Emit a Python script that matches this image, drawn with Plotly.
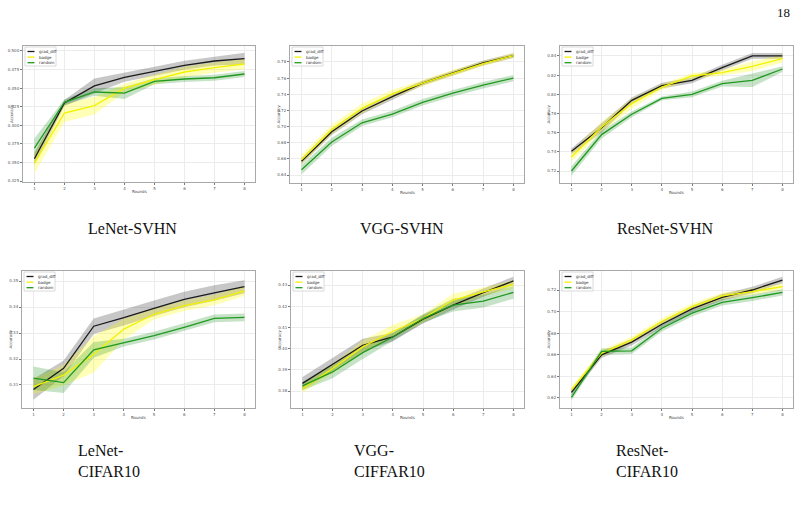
import plotly.graph_objects as go

rounds = [1, 2, 3, 4, 5, 6, 7, 8]
methods = ["grad_diff", "badge", "random"]

# LeNet-SVHN
lenet_svhn_grad = [0.355, 0.430, 0.453, 0.4645, 0.4727, 0.4807, 0.4865, 0.4897]
lenet_svhn_grad_std = [0.008, 0.004, 0.010, 0.006, 0.006, 0.006, 0.006, 0.008]
lenet_svhn_badge = [0.349, 0.4165, 0.4264, 0.450, 0.4614, 0.4717, 0.4776, 0.4825]
lenet_svhn_badge_std = [0.014, 0.012, 0.012, 0.006, 0.007, 0.007, 0.007, 0.007]
lenet_svhn_random = [0.3694, 0.431, 0.4448, 0.4434, 0.4592, 0.4623, 0.464, 0.469]
lenet_svhn_random_std = [0.013, 0.004, 0.005, 0.008, 0.004, 0.004, 0.004, 0.004]

# VGG-SVHN
vgg_svhn_grad = [0.657, 0.6935, 0.7193, 0.7372, 0.7538, 0.7663, 0.7788, 0.788]
vgg_svhn_grad_std = [0.004, 0.004, 0.004, 0.004, 0.003, 0.003, 0.003, 0.003]
vgg_svhn_badge = [0.659, 0.6964, 0.7226, 0.7405, 0.7538, 0.7663, 0.778, 0.788]
vgg_svhn_badge_std = [0.006, 0.006, 0.006, 0.005, 0.004, 0.004, 0.003, 0.003]
vgg_svhn_random = [0.6465, 0.681, 0.7047, 0.7155, 0.730, 0.7413, 0.7513, 0.760]
vgg_svhn_random_std = [0.006, 0.005, 0.004, 0.004, 0.004, 0.004, 0.004, 0.004]

# ResNet-SVHN
resnet_svhn_grad = [0.7405, 0.7652, 0.7937, 0.809, 0.8146, 0.8278, 0.840, 0.840]
resnet_svhn_grad_std = [0.003, 0.005, 0.003, 0.003, 0.003, 0.003, 0.003, 0.003]
resnet_svhn_badge = [0.7346, 0.766, 0.7903, 0.8076, 0.8191, 0.8226, 0.8292, 0.8372]
resnet_svhn_badge_std = [0.005, 0.005, 0.005, 0.003, 0.003, 0.003, 0.005, 0.004]
resnet_svhn_random = [0.720, 0.758, 0.7792, 0.7958, 0.800, 0.8111, 0.8146, 0.8264]
resnet_svhn_random_std = [0.005, 0.004, 0.003, 0.002, 0.003, 0.003, 0.007, 0.003]

# LeNet-CIFAR10
lenet_cifar_grad = [0.3083, 0.3164, 0.3326, 0.3359, 0.3395, 0.3429, 0.3454, 0.3478]
lenet_cifar_grad_std = [0.004, 0.003, 0.003, 0.003, 0.003, 0.003, 0.003, 0.0025]
lenet_cifar_badge = [0.3094, 0.3138, 0.3218, 0.3315, 0.3372, 0.3405, 0.3427, 0.3462]
lenet_cifar_badge_std = [0.003, 0.004, 0.007, 0.004, 0.002, 0.002, 0.002, 0.002]
lenet_cifar_random = [0.3126, 0.3109, 0.3235, 0.3263, 0.329, 0.3322, 0.3356, 0.336]
lenet_cifar_random_std = [0.0045, 0.004, 0.003, 0.0015, 0.0015, 0.0015, 0.0015, 0.0015]

# VGG-CIFFAR10
vgg_cifar_grad = [0.3836, 0.3925, 0.4016, 0.4055, 0.4139, 0.4205, 0.4264, 0.4319]
vgg_cifar_grad_std = [0.003, 0.003, 0.003, 0.002, 0.002, 0.002, 0.002, 0.002]
vgg_cifar_badge = [0.3811, 0.3906, 0.4008, 0.4082, 0.4142, 0.4229, 0.4268, 0.4303]
vgg_cifar_badge_std = [0.002, 0.002, 0.003, 0.003, 0.002, 0.003, 0.002, 0.002]
vgg_cifar_random = [0.3824, 0.389, 0.3981, 0.4055, 0.4142, 0.4205, 0.4224, 0.4265]
vgg_cifar_random_std = [0.002, 0.003, 0.003, 0.002, 0.002, 0.003, 0.003, 0.003]

# ResNet-CIFAR10
resnet_cifar_grad = [0.6252, 0.660, 0.6717, 0.6883, 0.7025, 0.7132, 0.720, 0.7292]
resnet_cifar_grad_std = [0.003, 0.003, 0.003, 0.003, 0.003, 0.003, 0.003, 0.003]
resnet_cifar_badge = [0.6277, 0.6615, 0.6738, 0.6908, 0.7046, 0.7145, 0.7185, 0.7231]
resnet_cifar_badge_std = [0.003, 0.003, 0.003, 0.003, 0.003, 0.003, 0.003, 0.003]
resnet_cifar_random = [0.6206, 0.6631, 0.6637, 0.6846, 0.6985, 0.7086, 0.7129, 0.7178]
resnet_cifar_random_std = [0.003, 0.003, 0.003, 0.003, 0.003, 0.003, 0.003, 0.003]

# y tick values per panel
yticks_1 = [0.325, 0.350, 0.375, 0.400, 0.425, 0.450, 0.475, 0.500]
yticks_2 = [0.64, 0.66, 0.68, 0.70, 0.72, 0.74, 0.76, 0.78]
yticks_3 = [0.72, 0.74, 0.76, 0.78, 0.80, 0.82, 0.84]
yticks_4 = [0.31, 0.32, 0.33, 0.34, 0.35]
yticks_5 = [0.38, 0.39, 0.40, 0.41, 0.42, 0.43]
yticks_6 = [0.62, 0.64, 0.66, 0.68, 0.70, 0.72]

captions_top = ["LeNet-SVHN", "VGG-SVHN", "ResNet-SVHN"]
captions_bottom = [("LeNet-", "CIFAR10"), ("VGG-", "CIFFAR10"), ("ResNet-", "CIFAR10")]

W, H = 802, 511

panels = [
    # (frame px: left, right, top, bottom), yrange, yticks, yfmt, data
    dict(box=(23, 255, 46, 182), yr=(0.3237, 0.5067), yt=yticks_1, fmt="%.3f",
         data=[(lenet_svhn_grad, lenet_svhn_grad_std), (lenet_svhn_badge, lenet_svhn_badge_std),
               (lenet_svhn_random, lenet_svhn_random_std)]),
    dict(box=(290, 524, 46, 183), yr=(0.6301, 0.7998), yt=yticks_2, fmt="%.2f",
         data=[(vgg_svhn_grad, vgg_svhn_grad_std), (vgg_svhn_badge, vgg_svhn_badge_std),
               (vgg_svhn_random, vgg_svhn_random_std)]),
    dict(box=(560, 793, 46, 183), yr=(0.7075, 0.8504), yt=yticks_3, fmt="%.2f",
         data=[(resnet_svhn_grad, resnet_svhn_grad_std), (resnet_svhn_badge, resnet_svhn_badge_std),
               (resnet_svhn_random, resnet_svhn_random_std)]),
    dict(box=(22, 255, 271, 408), yr=(0.30115, 0.35385), yt=yticks_4, fmt="%.2f",
         data=[(lenet_cifar_grad, lenet_cifar_grad_std), (lenet_cifar_badge, lenet_cifar_badge_std),
               (lenet_cifar_random, lenet_cifar_random_std)]),
    dict(box=(291, 524, 271, 408), yr=(0.372, 0.4366), yt=yticks_5, fmt="%.2f",
         data=[(vgg_cifar_grad, vgg_cifar_grad_std), (vgg_cifar_badge, vgg_cifar_badge_std),
               (vgg_cifar_random, vgg_cifar_random_std)]),
    dict(box=(560, 793, 271, 408), yr=(0.6107, 0.7376), yt=yticks_6, fmt="%.2f",
         data=[(resnet_cifar_grad, resnet_cifar_grad_std), (resnet_cifar_badge, resnet_cifar_badge_std),
               (resnet_cifar_random, resnet_cifar_random_std)]),
]

line_colors = ["#1a1a1a", "#f2f200", "#1f991f"]
band_colors = ["rgba(0,0,0,0.22)", "rgba(255,255,0,0.28)", "rgba(0,128,0,0.22)"]

fig = go.Figure()
layout = dict(
    width=W, height=H, margin=dict(l=0, r=0, t=0, b=0),
    paper_bgcolor="white", plot_bgcolor="white", showlegend=False,
)
shapes = []
annotations = []
tickfont = dict(family="DejaVu Sans", size=4, color="#555555")

for i, p in enumerate(panels):
    n = i + 1
    xa = "x" if n == 1 else f"x{n}"
    ya = "y" if n == 1 else f"y{n}"
    L, R, T, B = p["box"]
    layout[f"xaxis{'' if n == 1 else n}"] = dict(
        domain=[L / W, R / W], anchor=ya, range=[0.62, 8.35],
        tickvals=rounds, ticktext=[str(r) for r in rounds],
        showgrid=True, gridcolor="#ececec", gridwidth=1, zeroline=False,
        showline=True, mirror=True, linecolor="#a8a8a8", linewidth=1,
        ticks="outside", ticklen=2, tickcolor="#777", tickfont=tickfont,
    )
    layout[f"yaxis{'' if n == 1 else n}"] = dict(
        domain=[1 - B / H, 1 - T / H], anchor=xa, range=list(p["yr"]),
        tickvals=p["yt"], ticktext=[p["fmt"] % v for v in p["yt"]],
        showgrid=True, gridcolor="#ececec", gridwidth=1, zeroline=False,
        showline=True, mirror=True, linecolor="#a8a8a8", linewidth=1,
        ticks="outside", ticklen=2, tickcolor="#777", tickfont=tickfont,
    )
    for k, (mean, std) in enumerate(p["data"]):
        lo = [m - s for m, s in zip(mean, std)]
        hi = [m + s for m, s in zip(mean, std)]
        fig.add_trace(go.Scatter(x=rounds, y=lo, mode="lines", line=dict(width=0),
                                 xaxis=xa, yaxis=ya, hoverinfo="skip"))
        fig.add_trace(go.Scatter(x=rounds, y=hi, mode="lines", line=dict(width=0),
                                 fill="tonexty", fillcolor=band_colors[k],
                                 xaxis=xa, yaxis=ya, hoverinfo="skip"))
    for k, (mean, std) in enumerate(p["data"]):
        fig.add_trace(go.Scatter(x=rounds, y=mean, mode="lines", name=methods[k],
                                 line=dict(color=line_colors[k], width=1.3),
                                 xaxis=xa, yaxis=ya))
    # legend box (drawn manually, in paper coords)
    bx0, bx1 = L + 2, L + 33
    by0, by1 = T + 1, T + 20
    shapes.append(dict(type="rect", xref="paper", yref="paper",
                       x0=bx0 / W, x1=bx1 / W, y0=1 - by1 / H, y1=1 - by0 / H,
                       line=dict(color="#d0d0d0", width=0.8), fillcolor="white", layer="above"))
    for k, name in enumerate(methods):
        yy = by0 + 4.5 + k * 5.6
        shapes.append(dict(type="line", xref="paper", yref="paper",
                           x0=(bx0 + 2.5) / W, x1=(bx0 + 9.5) / W, y0=1 - yy / H, y1=1 - yy / H,
                           line=dict(color=line_colors[k], width=1.3), layer="above"))
        annotations.append(dict(text=name, xref="paper", yref="paper",
                                x=(bx0 + 11.5) / W, y=1 - yy / H, xanchor="left", yanchor="middle",
                                showarrow=False, font=dict(family="DejaVu Sans", size=4, color="#333")))
    # axis titles
    annotations.append(dict(text="Accuracy", xref="paper", yref="paper",
                            x=(L - 12) / W, y=1 - ((T + B) / 2) / H, textangle=-90,
                            xanchor="center", yanchor="middle", showarrow=False,
                            font=dict(family="DejaVu Sans", size=4, color="#444")))
    annotations.append(dict(text="Rounds", xref="paper", yref="paper",
                            x=((L + R) / 2) / W, y=1 - (B + 9) / H,
                            xanchor="center", yanchor="middle", showarrow=False,
                            font=dict(family="DejaVu Sans", size=4, color="#444")))

serif = dict(family="Liberation Serif", size=16, color="#111")
for txt, cx in zip(captions_top, [132, 402, 665]):
    annotations.append(dict(text=txt, xref="paper", yref="paper", x=cx / W, y=1 - 228 / H,
                            xanchor="center", yanchor="middle", showarrow=False, font=serif))
for (a, b), lx in zip(captions_bottom, [76, 352, 614]):
    annotations.append(dict(text=a, xref="paper", yref="paper", x=lx / W, y=1 - 450 / H,
                            xanchor="left", yanchor="middle", showarrow=False, font=serif))
    annotations.append(dict(text=b, xref="paper", yref="paper", x=lx / W, y=1 - 471 / H,
                            xanchor="left", yanchor="middle", showarrow=False, font=serif))
annotations.append(dict(text="18", xref="paper", yref="paper", x=783 / W, y=1 - 12 / H,
                        xanchor="center", yanchor="middle", showarrow=False,
                        font=dict(family="Liberation Serif", size=13, color="#111")))

layout["shapes"] = shapes
layout["annotations"] = annotations
fig.update_layout(**layout)
fig.write_html("out.html")
